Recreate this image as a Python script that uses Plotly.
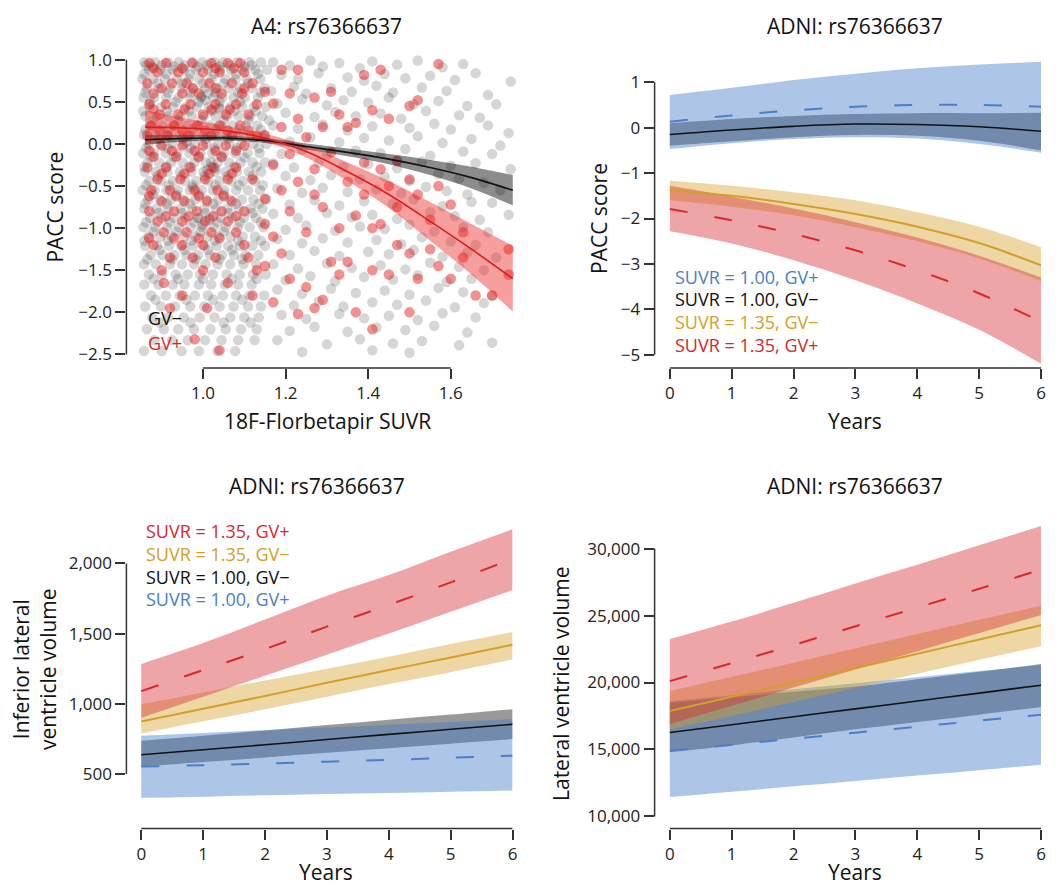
import plotly.graph_objects as go

W, H = 1062, 885
FONT = "Open Sans"

# ---------------- Panel A data (A4 cohort), hand-read ----------------
# GV- points in the dense low-SUVR region: (PACC row, [SUVR values])
GVNEG_CORE_ROWS = [
    (0.97, [0.858, 0.884, 0.915, 0.941, 0.972, 0.998, 1.027, 1.049, 1.083, 1.112, 1.14]),
    (0.88, [0.869, 0.897, 0.926, 0.955, 0.983, 1.012, 1.041, 1.068, 1.096, 1.127, 1.155]),
    (0.77, [0.853, 0.879, 0.908, 0.937, 0.966, 0.991, 1.021, 1.055, 1.079, 1.106, 1.139]),
    (0.66, [0.864, 0.893, 0.921, 0.949, 0.977, 1.005, 1.034, 1.062, 1.09, 1.118, 1.149]),
    (0.55, [0.856, 0.882, 0.911, 0.94, 0.969, 0.996, 1.025, 1.046, 1.074, 1.101, 1.133]),
    (0.44, [0.871, 0.899, 0.928, 0.958, 0.985, 1.014, 1.039, 1.066, 1.095, 1.123, 1.152]),
    (0.33, [0.86, 0.887, 0.917, 0.945, 0.973, 1.002, 1.03, 1.058, 1.086, 1.114, 1.143]),
    (0.22, [0.873, 0.901, 0.93, 0.962, 0.989, 1.018, 1.044, 1.072, 1.104, 1.131]),
    (0.11, [0.857, 0.885, 0.913, 0.943, 0.971, 0.999, 1.028, 1.057, 1.085, 1.116, 1.147]),
    (0.0, [0.868, 0.896, 0.925, 0.953, 0.98, 1.009, 1.036, 1.064, 1.093, 1.121, 1.154]),
    (-0.11, [0.855, 0.881, 0.91, 0.938, 0.967, 0.994, 1.022, 1.051, 1.078, 1.108, 1.137]),
    (-0.22, [0.866, 0.894, 0.923, 0.951, 0.979, 1.007, 1.035, 1.063, 1.091, 1.12, 1.15]),
    (-0.33, [0.859, 0.886, 0.914, 0.944, 0.972, 1.001, 1.029, 1.054, 1.082, 1.111, 1.141]),
    (-0.44, [0.87, 0.898, 0.927, 0.956, 0.984, 1.013, 1.04, 1.069, 1.097, 1.125]),
    (-0.55, [0.854, 0.883, 0.912, 0.939, 0.968, 0.997, 1.024, 1.052, 1.08, 1.109, 1.138]),
    (-0.66, [0.867, 0.895, 0.922, 0.952, 0.981, 1.008, 1.037, 1.065, 1.094, 1.122, 1.153]),
    (-0.77, [0.858, 0.887, 0.916, 0.946, 0.974, 1.003, 1.031, 1.059, 1.087, 1.115, 1.144]),
    (-0.88, [0.872, 0.9, 0.929, 0.957, 0.986, 1.015, 1.043, 1.071, 1.099, 1.128]),
    (-0.99, [0.856, 0.884, 0.913, 0.942, 0.97, 0.998, 1.026, 1.055, 1.084, 1.113, 1.146]),
    (-1.10, [0.868, 0.897, 0.925, 0.954, 0.982, 1.011, 1.038, 1.067, 1.096, 1.126]),
    (-1.21, [0.86, 0.889, 0.918, 0.947, 0.976, 1.004, 1.033, 1.061, 1.09, 1.119, 1.15]),
    (-1.32, [0.873, 0.902, 0.931, 0.96, 0.988, 1.017, 1.046, 1.075, 1.103, 1.134]),
    (-1.43, [0.857, 0.886, 0.92, 0.949, 0.978, 1.006, 1.035, 1.066, 1.098, 1.129]),
    (-1.55, [0.869, 0.901, 0.934, 0.963, 0.993, 1.024, 1.057, 1.089, 1.121, 1.152]),
    (-1.67, [0.858, 0.892, 0.927, 0.955, 0.99, 1.02, 1.053, 1.085, 1.118]),
    (-1.80, [0.874, 0.91, 0.944, 0.98, 1.012, 1.048, 1.08, 1.113, 1.148]),
    (-1.93, [0.86, 0.898, 0.932, 0.969, 1.003, 1.04, 1.074, 1.109, 1.14]),
    (-2.06, [0.877, 0.915, 0.953, 0.992, 1.028, 1.066, 1.1, 1.135]),
    (-2.20, [0.864, 0.905, 0.94, 0.978, 1.018, 1.055, 1.092, 1.13]),
    (-2.33, [0.882, 0.925, 0.963, 1.005, 1.045, 1.085, 1.125]),
    (-2.46, [0.857, 0.9, 0.948, 0.99, 1.035, 1.078]),
    (0.92, [0.876, 0.93, 0.987, 1.04, 1.1]),
    (0.72, [0.89, 0.95, 1.0, 1.05, 1.11]),
    (0.50, [0.872, 0.934, 0.99, 1.04, 1.09]),
    (0.28, [0.88, 0.94, 0.996, 1.05, 1.11, 1.16]),
    (0.06, [0.893, 0.95, 1.006, 1.06]),
    (-0.16, [0.874, 0.93, 0.988, 1.045, 1.1]),
    (-0.38, [0.89, 0.948, 1.004, 1.06, 1.12]),
    (-0.60, [0.878, 0.935, 0.99, 1.05]),
    (-0.82, [0.893, 0.95, 1.006, 1.063, 1.12]),
    (-1.04, [0.88, 0.936, 0.994, 1.05]),
    (-1.26, [0.895, 0.955, 1.012, 1.07]),
    (0.935, [0.862, 0.9, 0.955, 1.01, 1.065, 1.118]),
    (0.83, [0.858, 0.912, 0.968, 1.026, 1.08, 1.133]),
    (0.61, [0.86, 0.915, 0.97, 1.03, 1.085, 1.14]),
    (0.39, [0.855, 0.912, 0.966, 1.022, 1.076, 1.128]),
    (0.17, [0.86, 0.918, 0.975, 1.032, 1.088, 1.14]),
    (-0.05, [0.862, 0.915, 0.97, 1.028, 1.082, 1.135]),
    (-0.27, [0.858, 0.912, 0.966, 1.02, 1.075, 1.13]),
    (-0.49, [0.862, 0.918, 0.975, 1.03, 1.087, 1.145]),
    (-0.71, [0.86, 0.912, 0.968, 1.025, 1.08, 1.135]),
    (-0.93, [0.862, 0.92, 0.978, 1.035, 1.09, 1.14]),
    (-1.15, [0.858, 0.915, 0.972, 1.028, 1.085, 1.14]),
    (-1.37, [0.865, 0.925, 0.982, 1.04, 1.095]),
    (-1.60, [0.88, 0.94, 1.0, 1.07, 1.13]),
    (-1.85, [0.885, 0.96, 1.025, 1.095]),
    (-2.12, [0.895, 0.97, 1.05, 1.115]),
]

# GV- points in the sparse higher-SUVR region and darker clusters: (SUVR, PACC)
GVNEG_PTS = [
    (0.995, 0.57), (1.005, 0.52), (1.012, 0.6), (1.02, -0.22), (1.03, -0.29), (1.01, -0.31),
    (0.99, -0.88), (1.0, -0.96), (1.016, -0.9), (1.04, 0.42), (0.96, 0.02), (0.975, -0.52),
    (1.17, 0.97), (1.21, 0.93), (1.26, 0.99), (1.29, 0.92), (1.33, 0.96), (1.38, 0.9), (1.41, 0.98),
    (1.47, 0.94), (1.52, 0.99), (1.58, 0.91), (1.63, 0.95),
    (1.19, 0.82), (1.23, 0.77), (1.28, 0.84), (1.35, 0.79), (1.39, 0.75), (1.44, 0.83), (1.49, 0.78),
    (1.55, 0.81), (1.61, 0.76), (1.66, 0.84), (1.745, 0.74),
    (1.165, 0.63), (1.22, 0.68), (1.25, 0.6), (1.31, 0.66), (1.36, 0.62), (1.42, 0.69), (1.46, 0.61),
    (1.53, 0.67), (1.59, 0.63), (1.69, 0.58),
    (1.18, 0.48), (1.24, 0.53), (1.3, 0.46), (1.34, 0.52), (1.4, 0.49), (1.45, 0.55), (1.51, 0.47),
    (1.57, 0.51), (1.64, 0.45), (1.71, 0.47),
    (1.2, 0.37), (1.27, 0.32), (1.32, 0.38), (1.37, 0.33), (1.43, 0.36), (1.48, 0.3), (1.54, 0.39),
    (1.62, 0.34), (1.67, 0.31), (1.74, 0.13),
    (1.17, 0.22), (1.23, 0.18), (1.29, 0.23), (1.35, 0.16), (1.41, 0.21), (1.5, 0.19), (1.56, 0.24),
    (1.6, 0.17), (1.69, 0.22),
    (1.21, 0.03), (1.26, 0.08), (1.33, 0.02), (1.39, 0.07), (1.45, 0.04), (1.52, 0.09), (1.58, 0.01),
    (1.65, 0.06), (1.72, -0.02),
    (1.19, -0.12), (1.24, -0.07), (1.3, -0.13), (1.37, -0.08), (1.43, -0.11), (1.49, -0.06),
    (1.55, -0.14), (1.63, -0.09), (1.7, -0.12),
    (1.17, -0.23), (1.22, -0.28), (1.28, -0.22), (1.34, -0.27), (1.4, -0.24), (1.47, -0.29),
    (1.53, -0.21), (1.6, -0.26), (1.66, -0.23), (1.745, -0.3),
    (1.2, -0.38), (1.26, -0.43), (1.31, -0.37), (1.38, -0.42), (1.44, -0.39), (1.5, -0.44),
    (1.57, -0.36), (1.62, -0.41), (1.68, -0.46),
    (1.18, -0.53), (1.24, -0.58), (1.29, -0.52), (1.35, -0.57), (1.42, -0.54), (1.48, -0.59),
    (1.54, -0.51), (1.59, -0.56), (1.64, -0.6), (1.72, -0.55),
    (1.21, -0.72), (1.27, -0.67), (1.33, -0.73), (1.39, -0.68), (1.46, -0.71), (1.51, -0.66),
    (1.58, -0.74), (1.65, -0.69), (1.7, -0.7),
    (1.17, -0.83), (1.23, -0.88), (1.3, -0.82), (1.36, -0.87), (1.41, -0.84), (1.47, -0.89),
    (1.55, -0.81), (1.61, -0.86), (1.67, -0.9), (1.74, -0.84),
    (1.2, -1.02), (1.25, -0.97), (1.32, -1.03), (1.38, -0.98), (1.44, -1.01), (1.5, -0.96),
    (1.56, -1.04), (1.63, -0.99), (1.69, -1.05),
    (1.18, -1.13), (1.24, -1.18), (1.29, -1.12), (1.35, -1.17), (1.42, -1.14), (1.48, -1.19),
    (1.53, -1.11), (1.6, -1.16), (1.66, -1.2),
    (1.21, -1.32), (1.27, -1.27), (1.33, -1.33), (1.4, -1.28), (1.45, -1.31), (1.51, -1.26),
    (1.58, -1.34), (1.64, -1.29), (1.71, -1.35),
    (1.17, -1.43), (1.23, -1.48), (1.3, -1.42), (1.36, -1.47), (1.43, -1.44), (1.49, -1.49),
    (1.55, -1.41), (1.62, -1.46), (1.68, -1.5),
    (1.2, -1.62), (1.26, -1.57), (1.32, -1.63), (1.39, -1.58), (1.46, -1.61), (1.52, -1.56),
    (1.59, -1.64), (1.65, -1.6),
    (1.18, -1.73), (1.24, -1.78), (1.31, -1.72), (1.37, -1.77), (1.44, -1.74), (1.5, -1.79),
    (1.57, -1.71), (1.63, -1.76), (1.7, -1.8),
    (1.22, -1.92), (1.28, -1.87), (1.34, -1.93), (1.41, -1.88), (1.47, -1.91), (1.54, -1.86),
    (1.61, -1.94), (1.68, -1.89),
    (1.19, -2.03), (1.25, -2.08), (1.33, -2.02), (1.39, -2.07), (1.45, -2.04), (1.52, -2.09),
    (1.58, -2.01), (1.66, -2.06),
    (1.21, -2.22), (1.27, -2.17), (1.35, -2.23), (1.42, -2.18), (1.49, -2.21), (1.56, -2.16),
    (1.64, -2.24),
    (1.18, -2.33), (1.3, -2.38), (1.38, -2.32), (1.46, -2.37), (1.53, -2.34), (1.62, -2.39),
    (1.7, -2.36),
    (1.24, -2.47), (1.41, -2.45), (1.5, -2.48),
]

# GV+ points, dense region: (PACC row, [SUVR values])
GVPOS_CORE_ROWS = [
    (0.96, [0.87, 0.91, 0.975, 1.02, 1.06, 1.09]),
    (0.85, [0.89, 0.94, 1.0, 1.04, 1.1]),
    (0.72, [0.865, 0.925, 0.96, 1.015, 1.07, 1.12]),
    (0.60, [0.88, 0.95, 0.99, 1.045, 1.095]),
    (0.47, [0.87, 0.91, 0.97, 1.03, 1.08, 1.13]),
    (0.35, [0.895, 0.94, 1.0, 1.055, 1.11]),
    (0.22, [0.875, 0.93, 0.985, 1.04, 1.09]),
    (0.10, [0.865, 0.915, 0.965, 1.02, 1.07, 1.13]),
    (-0.02, [0.9, 0.95, 1.0, 1.055, 1.1]),
    (-0.15, [0.88, 0.935, 0.99, 1.045]),
    (-0.28, [0.865, 0.91, 0.97, 1.025, 1.08]),
    (-0.42, [0.89, 0.945, 1.005, 1.06, 1.12]),
    (-0.55, [0.875, 0.92, 0.98, 1.035]),
    (-0.68, [0.9, 0.955, 1.01, 1.07]),
    (-0.80, [0.87, 0.93, 0.985, 1.045, 1.1]),
    (-0.92, [0.89, 0.95, 1.005, 1.06]),
    (-1.05, [0.905, 0.96, 1.02, 1.08]),
    (-1.20, [0.88, 0.95, 1.0, 1.1]),
    (-1.35, [0.92, 0.975, 1.03, 1.11]),
    (-1.50, [0.9, 1.0, 1.13]),
    (-1.65, [0.905, 1.06]),
    (-1.80, [0.95, 1.12]),
    (-1.95, [0.92, 1.01]),
    (-2.32, [0.98]),
    (-2.45, [1.04]),
    (0.90, [0.88, 0.95, 1.03, 1.075]),
    (0.66, [0.9, 0.975, 1.03, 1.1]),
    (0.41, [0.88, 0.955, 1.02, 1.065]),
    (0.16, [0.895, 0.95, 1.005, 1.06, 1.11]),
    (-0.08, [0.87, 0.925, 0.98, 1.03, 1.08]),
    (-0.35, [0.9, 0.955, 1.015, 1.07]),
    (-0.62, [0.87, 0.935, 0.99, 1.05]),
    (-0.86, [0.91, 0.965, 1.025, 1.08]),
    (-1.12, [0.87, 0.93, 0.99, 1.04]),
]

# GV+ points, sparse region: (SUVR, [PACC values])
GVPOS_FAR_COLS = [
    (1.15, [0.62, 0.1, -0.65, -0.95, -1.45]),
    (1.17, [0.48, -0.25, -1.1, -1.88]),
    (1.19, [0.88, 0.2, -0.55, -1.3]),
    (1.21, [0.6, -0.12, -0.8, -1.6]),
    (1.23, [0.88, 0.3, -0.45, -2.02]),
    (1.25, [0.08, -1.05, -1.7]),
    (1.27, [0.55, -0.3, -0.6, -1.95]),
    (1.29, [0.2, -0.75, -1.85]),
    (1.31, [0.62, -0.1, -1.4]),
    (1.33, [0.35, -1.0, -1.55]),
    (1.35, [0.2, -0.45, -1.4]),
    (1.37, [0.25, -0.85, -2.0]),
    (1.39, [0.82, -0.22, -0.6]),
    (1.41, [0.4, -1.0, -1.5, -2.2]),
    (1.43, [0.88, -0.3, -0.95]),
    (1.45, [0.3, -0.5, -1.55]),
    (1.47, [-0.2, -0.75, -1.2]),
    (1.50, [0.45, -0.42, -1.3, -2.0]),
    (1.52, [0.52, -0.6, -1.6]),
    (1.55, [-0.9, -1.25]),
    (1.57, [0.95, -0.5, -1.45]),
    (1.60, [-0.72, -1.6]),
    (1.63, [-1.05, -1.35]),
    (1.66, [-1.8]),
    (1.70, [-1.8]),
    (1.74, [-1.55, -1.25]),
]

# fitted curves, panel A
A_SUVR = [0.86, 0.95, 1.05, 1.15, 1.25, 1.35, 1.45, 1.55, 1.65, 1.75]
A_NEG_FIT = [0.05, 0.065, 0.07, 0.04, -0.03, -0.10, -0.18, -0.28, -0.40, -0.55]
A_NEG_HI = [0.11, 0.105, 0.10, 0.07, 0.005, -0.055, -0.12, -0.19, -0.27, -0.37]
A_NEG_LO = [-0.01, 0.025, 0.04, 0.01, -0.065, -0.145, -0.24, -0.37, -0.53, -0.73]
A_POS_FIT = [0.20, 0.19, 0.16, 0.07, -0.09, -0.33, -0.60, -0.92, -1.25, -1.60]
A_POS_HI = [0.40, 0.31, 0.22, 0.12, -0.02, -0.22, -0.44, -0.69, -0.95, -1.21]
A_POS_LO = [0.00, 0.07, 0.10, 0.02, -0.16, -0.44, -0.76, -1.15, -1.55, -1.99]

# ---------------- Panels B-D (ADNI) ----------------
YEARS = [0, 1, 2, 3, 4, 5, 6]

B_POS100 = [0.13, 0.27, 0.38, 0.46, 0.50, 0.50, 0.46]
B_POS100_HI = [0.72, 0.88, 1.05, 1.19, 1.31, 1.39, 1.45]
B_POS100_LO = [-0.47, -0.34, -0.25, -0.21, -0.24, -0.36, -0.55]
B_NEG100 = [-0.15, -0.05, 0.03, 0.08, 0.07, 0.02, -0.08]
B_NEG100_HI = [0.10, 0.19, 0.26, 0.30, 0.32, 0.32, 0.33]
B_NEG100_LO = [-0.40, -0.30, -0.21, -0.16, -0.18, -0.29, -0.50]
B_NEG135 = [-1.37, -1.50, -1.68, -1.90, -2.18, -2.54, -3.03]
B_NEG135_HI = [-1.17, -1.28, -1.42, -1.60, -1.86, -2.18, -2.63]
B_NEG135_LO = [-1.60, -1.74, -1.93, -2.19, -2.50, -2.88, -3.38]
B_POS135 = [-1.79, -2.04, -2.34, -2.70, -3.14, -3.65, -4.27]
B_POS135_HI = [-1.28, -1.52, -1.78, -2.08, -2.42, -2.82, -3.30]
B_POS135_LO = [-2.28, -2.55, -2.92, -3.36, -3.87, -4.45, -5.20]

C_POS135 = [1090, 1240, 1390, 1550, 1705, 1865, 2035]
C_POS135_HI = [1284, 1433, 1600, 1770, 1917, 2083, 2243]
C_POS135_LO = [900, 1050, 1200, 1350, 1500, 1655, 1810]
C_NEG135 = [873, 965, 1055, 1150, 1240, 1330, 1421]
C_NEG135_HI = [996, 1080, 1165, 1250, 1335, 1425, 1511]
C_NEG135_LO = [788, 875, 960, 1050, 1140, 1225, 1315]
C_NEG100 = [637, 672, 708, 745, 782, 818, 854]
C_NEG100_HI = [736, 772, 810, 848, 886, 923, 961]
C_NEG100_LO = [552, 585, 617, 650, 683, 715, 748]
C_POS100 = [552, 562, 574, 587, 600, 615, 630]
C_POS100_HI = [772, 792, 812, 831, 851, 870, 890]
C_POS100_LO = [330, 338, 347, 356, 364, 373, 382]

D_POS135 = [20100, 21450, 22800, 24200, 25600, 27000, 28440]
D_POS135_HI = [23240, 24550, 25950, 27400, 28800, 30250, 31680]
D_POS135_LO = [16900, 18260, 19620, 20980, 22330, 23690, 25050]
D_NEG135 = [17870, 18940, 20000, 21080, 22150, 23210, 24280]
D_NEG135_HI = [19350, 20420, 21480, 22550, 23620, 24680, 25740]
D_NEG135_LO = [16500, 17500, 18550, 19600, 20650, 21700, 22700]
D_NEG100 = [16260, 16850, 17440, 18030, 18620, 19210, 19800]
D_NEG100_HI = [18500, 18900, 19300, 19700, 20250, 20800, 21390]
D_NEG100_LO = [14800, 15300, 15900, 16500, 17050, 17600, 18170]
D_POS100 = [14900, 15350, 15800, 16250, 16700, 17150, 17600]
D_POS100_HI = [18600, 19050, 19500, 19950, 20400, 20850, 21300]
D_POS100_LO = [11440, 11840, 12250, 12650, 13050, 13450, 13860]

LEGEND_LABELS = {
    "pos100": "SUVR = 1.00, GV+",
    "neg100": "SUVR = 1.00, GV\u2212",
    "neg135": "SUVR = 1.35, GV\u2212",
    "pos135": "SUVR = 1.35, GV+",
}

# ---------------- styling ----------------
BLUE = "#4a7fc8"
GOLD = "#d2a02a"
RED = "#d8282c"
BLACK = "#111111"
BAND = {
    "neg100": "rgba(0,0,0,0.40)",
    "pos100": "rgba(60,120,200,0.42)",
    "neg135": "rgba(215,160,40,0.42)",
    "pos135": "rgba(215,40,45,0.42)",
}
LINE = {
    "neg100": dict(color=BLACK, width=1.6),
    "pos100": dict(color=BLUE, width=2, dash="18px,27px"),
    "neg135": dict(color=GOLD, width=2),
    "pos135": dict(color=RED, width=2, dash="18px,27px"),
}
TEXT_COLOR = {"pos100": BLUE, "neg100": BLACK, "neg135": GOLD, "pos135": RED}


def px2x(p):
    return p / W


def px2y(p):
    return 1 - p / H


fig = go.Figure()


def band(xs, lo, hi, color, xa, ya, shape="spline"):
    fig.add_trace(go.Scatter(x=xs, y=lo, mode="lines", line=dict(width=0, shape=shape),
                             hoverinfo="skip", showlegend=False, xaxis=xa, yaxis=ya))
    fig.add_trace(go.Scatter(x=xs, y=hi, mode="lines", line=dict(width=0, shape=shape),
                             fill="tonexty", fillcolor=color, hoverinfo="skip",
                             showlegend=False, xaxis=xa, yaxis=ya))


def line(xs, ys, style, xa, ya):
    st = dict(style)
    st["shape"] = "spline"
    fig.add_trace(go.Scatter(x=xs, y=ys, mode="lines", line=st, showlegend=False,
                             xaxis=xa, yaxis=ya))


# ---- Panel A ----
gx, gy = [], []
for y, xs in GVNEG_CORE_ROWS:
    for x in xs:
        gx.append(x)
        gy.append(y)
for x, y in GVNEG_PTS:
    gx.append(x)
    gy.append(y)
rx, ry = [], []
for y, xs in GVPOS_CORE_ROWS:
    for x in xs:
        rx.append(x)
        ry.append(y)
for x, ys in GVPOS_FAR_COLS:
    for y in ys:
        rx.append(x)
        ry.append(y)

fig.add_trace(go.Scatter(x=gx, y=gy, mode="markers", showlegend=False,
                         marker=dict(size=10.5, color="rgba(0,0,0,0.16)", line=dict(width=0)),
                         xaxis="x", yaxis="y"))
fig.add_trace(go.Scatter(x=rx, y=ry, mode="markers", showlegend=False,
                         marker=dict(size=10.5, color="rgba(228,22,22,0.47)", line=dict(width=0)),
                         xaxis="x", yaxis="y"))
band(A_SUVR, A_NEG_LO, A_NEG_HI, "rgba(0,0,0,0.45)", "x", "y")
band(A_SUVR, A_POS_LO, A_POS_HI, "rgba(238,40,40,0.45)", "x", "y")
line(A_SUVR, A_NEG_FIT, dict(color=BLACK, width=1.6), "x", "y")
line(A_SUVR, A_POS_FIT, dict(color="#d81e1e", width=1.6), "x", "y")

# ---- Panels B, C, D ----
panels = {
    "B": ("x2", "y2", {"neg100": (B_NEG100, B_NEG100_LO, B_NEG100_HI),
                       "pos100": (B_POS100, B_POS100_LO, B_POS100_HI),
                       "neg135": (B_NEG135, B_NEG135_LO, B_NEG135_HI),
                       "pos135": (B_POS135, B_POS135_LO, B_POS135_HI)}),
    "C": ("x3", "y3", {"neg100": (C_NEG100, C_NEG100_LO, C_NEG100_HI),
                       "pos100": (C_POS100, C_POS100_LO, C_POS100_HI),
                       "neg135": (C_NEG135, C_NEG135_LO, C_NEG135_HI),
                       "pos135": (C_POS135, C_POS135_LO, C_POS135_HI)}),
    "D": ("x4", "y4", {"neg100": (D_NEG100, D_NEG100_LO, D_NEG100_HI),
                       "pos100": (D_POS100, D_POS100_LO, D_POS100_HI),
                       "neg135": (D_NEG135, D_NEG135_LO, D_NEG135_HI),
                       "pos135": (D_POS135, D_POS135_LO, D_POS135_HI)}),
}
ORDER = ["neg100", "pos100", "neg135", "pos135"]
for key, (xa, ya, series) in panels.items():
    for g in ORDER:
        fit, lo, hi = series[g]
        band(YEARS, lo, hi, BAND[g], xa, ya)
    for g in ORDER:
        fit, lo, hi = series[g]
        line(YEARS, fit, LINE[g], xa, ya)

# ---------------- axes ----------------
TICKFONT = dict(family=FONT, size=17, color="#222222")
AX = dict(showgrid=False, zeroline=False, showline=False, ticks="outside", ticklen=10,
          tickwidth=1.5, tickcolor="#333333", tickfont=TICKFONT, fixedrange=True)

dom_left = [px2x(127), px2x(523.5)]
dom_left_c = [px2x(127), px2x(515)]
dom_right = [px2x(657.7), px2x(1046)]
top_dom = [px2y(365), px2y(48)]
top_dom_b = [px2y(365), px2y(50)]
bot_dom_c = [px2y(828.3), px2y(520)]
bot_dom_d = [px2y(828.3), px2y(518)]

fig.update_layout(
    xaxis=dict(AX, domain=dom_left, range=[0.8145, 1.77], tickvals=[1.0, 1.2, 1.4, 1.6],
               tickformat=".1f", anchor="y"),
    yaxis=dict(AX, domain=top_dom, range=[-2.66, 1.083],
               tickvals=[-2.5, -2.0, -1.5, -1.0, -0.5, 0.0, 0.5, 1.0], tickformat=".1f",
               anchor="x"),
    xaxis2=dict(AX, domain=dom_right, range=[-0.246, 6.0], tickvals=YEARS, anchor="y2"),
    yaxis2=dict(AX, domain=top_dom_b, range=[-5.29, 1.607], tickvals=[-5, -4, -3, -2, -1, 0, 1],
                anchor="x2"),
    xaxis3=dict(AX, domain=dom_left_c, range=[-0.24, 6.0], tickvals=YEARS, anchor="y3"),
    yaxis3=dict(AX, domain=bot_dom_c, range=[110, 2295], tickvals=[500, 1000, 1500, 2000],
                tickformat=",", anchor="x3"),
    xaxis4=dict(AX, domain=dom_right, range=[-0.246, 6.0], tickvals=YEARS, anchor="y4"),
    yaxis4=dict(AX, domain=bot_dom_d, range=[9087, 32131],
                tickvals=[10000, 15000, 20000, 25000, 30000], tickformat=",", anchor="x4"),
)

# range-frame axis lines
AXLINE = dict(color="#333333", width=1.5)
frames = [
    ("x", "y", (1.0, 1.6), (-2.5, 1.0)),
    ("x2", "y2", (0, 6), (-5, 1)),
    ("x3", "y3", (0, 6), (500, 2000)),
    ("x4", "y4", (0, 6), (10000, 30000)),
]
shapes = []
for xa, ya, (x0, x1), (y0, y1) in frames:
    shapes.append(dict(type="line", xref=xa, yref=ya + " domain", x0=x0, x1=x1, y0=0, y1=0,
                       line=AXLINE, layer="above"))
    shapes.append(dict(type="line", xref=xa + " domain", yref=ya, x0=0, x1=0, y0=y0, y1=y1,
                       line=AXLINE, layer="above"))

# ---------------- text ----------------
TITLE_FONT = dict(family=FONT, size=21, color="#111111")
LABEL_FONT = dict(family=FONT, size=21, color="#111111")
LEG_FONT_SIZE = 18
ann = []


def text(px, py, t, font, xanchor="center", angle=0):
    ann.append(dict(x=px2x(px), y=px2y(py), xref="paper", yref="paper", text=t,
                    showarrow=False, font=font, xanchor=xanchor, yanchor="middle",
                    textangle=angle))


text(328, 21, "A4: rs76366637", TITLE_FONT)
text(859, 21, "ADNI: rs76366637", TITLE_FONT)
text(319, 484, "ADNI: rs76366637", TITLE_FONT)
text(859, 484, "ADNI: rs76366637", TITLE_FONT)

text(55, 203, "PACC score", LABEL_FONT, angle=-90)
text(329, 418, "18F-Florbetapir SUVR", LABEL_FONT)
text(602, 215, "PACC score", LABEL_FONT, angle=-90)
text(859, 418, "Years", LABEL_FONT)
text(34, 668, "Inferior lateral<br>ventricle volume", LABEL_FONT, angle=-90)
text(328, 872, "Years", LABEL_FONT)
text(563.5, 682, "Lateral ventricle volume", LABEL_FONT, angle=-90)
text(859, 872, "Years", LABEL_FONT)

text(146.5, 315, "GV\u2212", dict(family=FONT, size=LEG_FONT_SIZE, color=BLACK), xanchor="left")
text(146.5, 340, "GV+", dict(family=FONT, size=LEG_FONT_SIZE, color=RED), xanchor="left")

for g, py in zip(["pos100", "neg100", "neg135", "pos135"], [273.3, 295.7, 319, 341.7]):
    text(676, py, LEGEND_LABELS[g], dict(family=FONT, size=LEG_FONT_SIZE, color=TEXT_COLOR[g]),
         xanchor="left")
for g, py in zip(["pos135", "neg135", "neg100", "pos100"], [529.3, 551.7, 575, 597.3]):
    text(145, py, LEGEND_LABELS[g], dict(family=FONT, size=LEG_FONT_SIZE, color=TEXT_COLOR[g]),
         xanchor="left")

fig.update_layout(
    width=W, height=H, margin=dict(l=0, r=0, t=0, b=0),
    paper_bgcolor="white", plot_bgcolor="white",
    font=dict(family=FONT, size=17, color="#222222"),
    shapes=shapes, annotations=ann, showlegend=False,
)

fig.write_html("out.html", config={"displayModeBar": False},
               post_script="document.body.style.margin='0';")
